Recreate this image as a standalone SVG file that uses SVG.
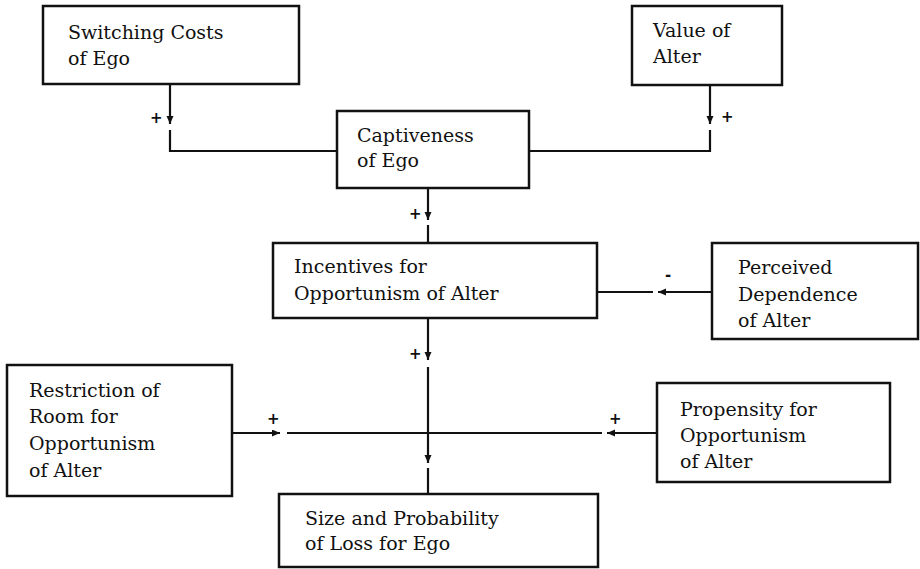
<svg xmlns="http://www.w3.org/2000/svg" width="920" height="569" viewBox="0 0 920 569">
<style>
.box{fill:#fff;stroke:#111;stroke-width:2.5}
.t{font-family:"DejaVu Serif","Liberation Serif",serif;font-size:19px;fill:#111}
.c{fill:none;stroke:#111;stroke-width:2.2}
.s{font-family:"DejaVu Sans","Liberation Sans",sans-serif;font-size:15px;font-weight:bold;fill:#111}
</style>
<defs>
<marker id="ah" markerUnits="userSpaceOnUse" markerWidth="9" markerHeight="8" refX="8" refY="3.5" orient="auto">
<path d="M0,0 L8,3.5 L0,7 z" fill="#111"/>
</marker>
</defs>
<rect width="920" height="569" fill="#fff"/>
<g id="connectors">
<path class="c" d="M170,84 V124" marker-end="url(#ah)"/>
<path class="c" d="M170,130 V151 H337"/>
<path class="c" d="M710,85 V124" marker-end="url(#ah)"/>
<path class="c" d="M710,130 V151 H530"/>
<path class="c" d="M428,188 V220" marker-end="url(#ah)"/>
<path class="c" d="M428,225 V243"/>
<path class="c" d="M712,292 H658" marker-end="url(#ah)"/>
<path class="c" d="M653,292 H597"/>
<path class="c" d="M428,318 V360" marker-end="url(#ah)"/>
<path class="c" d="M428,367 V463" marker-end="url(#ah)"/>
<path class="c" d="M428,468 V494"/>
<path class="c" d="M232,433 H280" marker-end="url(#ah)"/>
<path class="c" d="M287,433 H602"/>
<path class="c" d="M657,433 H607" marker-end="url(#ah)"/>
<text class="s" x="150" y="123">+</text>
<text class="s" x="721" y="122">+</text>
<text class="s" x="409" y="219">+</text>
<text class="s" x="665" y="280">-</text>
<text class="s" x="409" y="359">+</text>
<text class="s" x="267" y="424">+</text>
<text class="s" x="609" y="424">+</text>
</g>
<g id="switching">
<rect class="box" x="43" y="6" width="256" height="78"/>
<text class="t" x="68" y="39">Switching Costs</text>
<text class="t" x="68" y="65">of Ego</text>
</g>
<g id="value">
<rect class="box" x="632" y="6" width="150" height="79"/>
<text class="t" x="653" y="37">Value of</text>
<text class="t" x="653" y="63">Alter</text>
</g>
<g id="captiveness">
<rect class="box" x="337" y="111" width="192" height="77"/>
<text class="t" x="357" y="142">Captiveness</text>
<text class="t" x="357" y="167">of Ego</text>
</g>
<g id="incentives">
<rect class="box" x="273" y="243" width="324" height="75"/>
<text class="t" x="294" y="273">Incentives for</text>
<text class="t" x="294" y="300">Opportunism of Alter</text>
</g>
<g id="perceived">
<rect class="box" x="712" y="243" width="206" height="96"/>
<text class="t" x="738" y="274">Perceived</text>
<text class="t" x="738" y="301">Dependence</text>
<text class="t" x="738" y="327">of Alter</text>
</g>
<g id="restriction">
<rect class="box" x="7" y="365" width="225" height="131"/>
<text class="t" x="29" y="397">Restriction of</text>
<text class="t" x="29" y="423">Room for</text>
<text class="t" x="29" y="450">Opportunism</text>
<text class="t" x="29" y="477">of Alter</text>
</g>
<g id="propensity">
<rect class="box" x="657" y="383" width="233" height="99"/>
<text class="t" x="680" y="416">Propensity for</text>
<text class="t" x="680" y="442">Opportunism</text>
<text class="t" x="680" y="468">of Alter</text>
</g>
<g id="size">
<rect class="box" x="279" y="494" width="319" height="73"/>
<text class="t" x="305" y="525">Size and Probability</text>
<text class="t" x="305" y="550">of Loss for Ego</text>
</g>
</svg>
